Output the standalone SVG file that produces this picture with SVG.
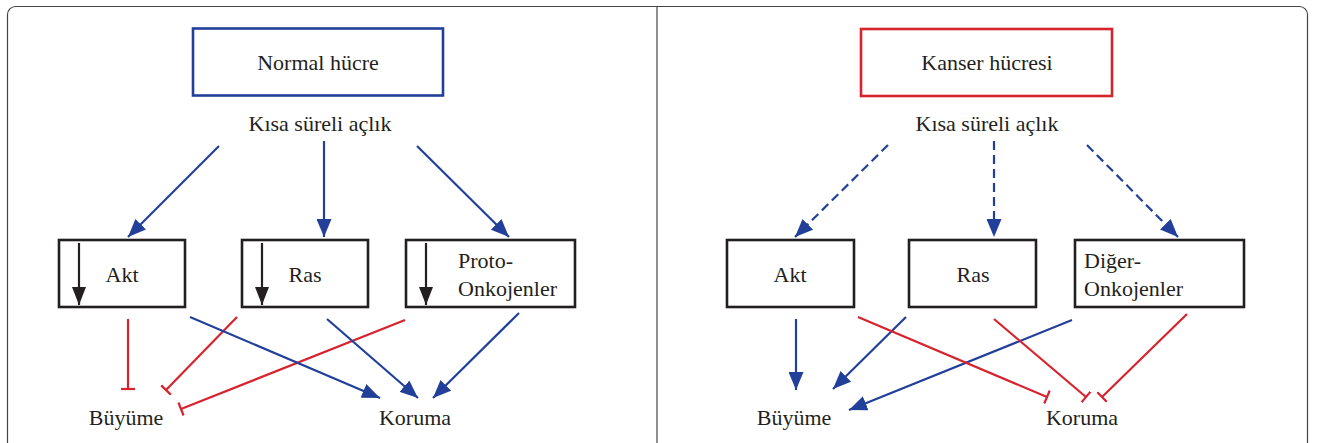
<svg xmlns="http://www.w3.org/2000/svg" width="1325" height="443" viewBox="0 0 1325 443">
<style>
text{font-size:22px;fill:#231f20}
.c{text-anchor:middle}
.box{fill:#fff;stroke:#231f20;stroke-width:2.6}
.b{stroke:#22409a;stroke-width:2.2;fill:none}
.r{stroke:#d7232e;stroke-width:2.2;fill:none}
.k{stroke:#231f20;stroke-width:2.2;fill:none}
.d{stroke-dasharray:9 5}
</style>
<defs>
<marker id="ab" viewBox="0 0 18 15" refX="18" refY="7.5" markerWidth="18" markerHeight="15" markerUnits="userSpaceOnUse" orient="auto"><path d="M0,0 L18,7.5 L0,15 z" fill="#22409a"/></marker>
<marker id="ak" viewBox="0 0 18 14" refX="18" refY="7" markerWidth="18" markerHeight="14" markerUnits="userSpaceOnUse" orient="auto"><path d="M0,0 L18,7 L0,14 z" fill="#231f20"/></marker>
<marker id="tr" viewBox="0 0 4 14" refX="2" refY="7" markerWidth="4" markerHeight="14" markerUnits="userSpaceOnUse" orient="auto"><path d="M2,0 V14" stroke="#d7232e" stroke-width="2.2"/></marker>
</defs>
<rect x="0" y="0" width="1325" height="443" fill="#fff"/>
<g id="frame">
<rect x="7.5" y="6.5" width="1300" height="460" rx="8" fill="none" stroke="#444" stroke-width="1.2"/>
<line x1="657" y1="6.5" x2="657" y2="443" stroke="#444" stroke-width="1.2"/>
</g>
<g id="normal"><rect x="193" y="28.5" width="250" height="67" fill="#fff" stroke="#22409a" stroke-width="2.6"/><text class="c" x="318" y="70" font-family="Times New Roman">Normal hücre</text></g>
<g id="kisaL"><text class="c" x="320" y="131" font-family="Times New Roman">Kısa süreli açlık</text></g>
<g id="aktL"><rect class="box" x="59" y="240" width="126" height="67"/><line class="k" x1="79" y1="243" x2="79" y2="305" marker-end="url(#ak)"/><text class="c" x="122" y="282" font-family="Times New Roman">Akt</text></g>
<g id="rasL"><rect class="box" x="242" y="240" width="126" height="67"/><line class="k" x1="262" y1="243" x2="262" y2="305" marker-end="url(#ak)"/><text class="c" x="305" y="282" font-family="Times New Roman">Ras</text></g>
<g id="protoL"><rect class="box" x="406" y="240" width="169" height="67"/><line class="k" x1="426" y1="243" x2="426" y2="305" marker-end="url(#ak)"/><text x="458" y="268" font-family="Times New Roman">Proto-</text><text x="458" y="296" font-family="Times New Roman">Onkojenler</text></g>
<g id="buyumeL"><text class="c" x="126" y="425" font-family="Times New Roman">Büyüme</text></g>
<g id="korumaL"><text class="c" x="415" y="425" font-family="Times New Roman">Koruma</text></g>
<g id="kanser"><rect x="861" y="29" width="251" height="67" fill="#fff" stroke="#d7232e" stroke-width="2.6"/><text class="c" x="987" y="70" font-family="Times New Roman">Kanser hücresi</text></g>
<g id="kisaR"><text class="c" x="987" y="131" font-family="Times New Roman">Kısa süreli açlık</text></g>
<g id="aktR"><rect class="box" x="727" y="240" width="127" height="67"/><text class="c" x="790" y="282" font-family="Times New Roman">Akt</text></g>
<g id="rasR"><rect class="box" x="909" y="240" width="127" height="67"/><text class="c" x="973" y="282" font-family="Times New Roman">Ras</text></g>
<g id="digerR"><rect class="box" x="1075" y="240" width="169" height="67"/><text x="1084" y="268" font-family="Times New Roman">Diğer-</text><text x="1084" y="296" font-family="Times New Roman">Onkojenler</text></g>
<g id="buyumeR"><text class="c" x="794" y="425" font-family="Times New Roman">Büyüme</text></g>
<g id="korumaR"><text class="c" x="1082" y="425" font-family="Times New Roman">Koruma</text></g>
<g id="connectors">
<line class="b" x1="219" y1="146" x2="128" y2="237" marker-end="url(#ab)"/>
<line class="b" x1="324" y1="141" x2="324" y2="237" marker-end="url(#ab)"/>
<line class="b" x1="417" y1="146" x2="509" y2="237" marker-end="url(#ab)"/>
<line class="r" x1="128" y1="319" x2="128" y2="389" marker-end="url(#tr)"/>
<line class="r" x1="237" y1="317" x2="166" y2="390" marker-end="url(#tr)"/>
<line class="r" x1="405" y1="320" x2="181" y2="409" marker-end="url(#tr)"/>
<line class="b" x1="190" y1="317" x2="380" y2="398" marker-end="url(#ab)"/>
<line class="b" x1="327" y1="319" x2="418" y2="398" marker-end="url(#ab)"/>
<line class="b" x1="519" y1="313" x2="433" y2="398" marker-end="url(#ab)"/>
<line class="b d" x1="888" y1="145" x2="795" y2="237" marker-end="url(#ab)"/>
<line class="b d" x1="994" y1="141" x2="994" y2="237" marker-end="url(#ab)"/>
<line class="b d" x1="1087" y1="145" x2="1178" y2="237" marker-end="url(#ab)"/>
<line class="b" x1="796" y1="319" x2="796" y2="390" marker-end="url(#ab)"/>
<line class="b" x1="906" y1="317" x2="833" y2="389" marker-end="url(#ab)"/>
<line class="b" x1="1072" y1="320" x2="849" y2="410" marker-end="url(#ab)"/>
<line class="r" x1="858" y1="317" x2="1047" y2="397" marker-end="url(#tr)"/>
<line class="r" x1="994" y1="319" x2="1086" y2="397" marker-end="url(#tr)"/>
<line class="r" x1="1187" y1="314" x2="1102" y2="397" marker-end="url(#tr)"/>
</g>
</svg>
